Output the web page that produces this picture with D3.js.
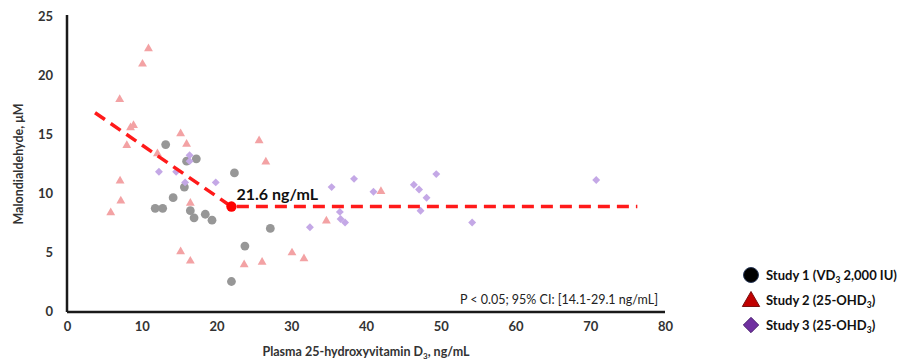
<!DOCTYPE html>
<html><head><meta charset="utf-8">
<script src="https://cdn.jsdelivr.net/npm/d3@7"></script>
<style>body{margin:0;background:#fff;} svg{display:block;font-family:Lato,"Open Sans",sans-serif;}</style>
</head><body><svg id="c" width="905" height="364"></svg>
<script>
const xTicks = [0,10,20,30,40,50,60,70,80];
const yTicks = [0,5,10,15,20,25];
const study1 = [[13.2,14.1],[17.3,12.9],[16.0,12.7],[22.4,11.7],[15.7,10.5],[14.2,9.6],[11.8,8.7],[12.8,8.7],[16.5,8.5],[17.0,7.9],[18.5,8.2],[19.4,7.7],[23.8,5.5],[22.0,2.5],[27.2,7.0]];
const study2 = [[10.9,22.3],[10.1,21.0],[7.05,18.0],[8.5,15.6],[8.9,15.8],[15.2,15.1],[16.0,14.2],[8.0,14.1],[12.1,13.4],[7.1,11.1],[7.2,9.4],[5.85,8.4],[16.5,9.2],[15.2,5.1],[16.5,4.3],[23.7,4.0],[25.7,14.5],[26.6,12.7],[34.7,7.7],[30.1,5.0],[31.7,4.5],[26.1,4.2],[42.0,10.2]];
const study3 = [[16.4,13.2],[16.4,12.7],[12.3,11.8],[14.6,11.8],[15.8,10.9],[19.9,10.9],[38.4,11.2],[35.4,10.5],[41.0,10.1],[36.5,8.4],[36.6,7.8],[37.2,7.5],[32.5,7.1],[46.4,10.7],[47.1,10.3],[49.4,11.6],[48.1,9.6],[47.3,8.5],[54.2,7.5],[70.8,11.1]];
const fitLine = [[3.75,16.8],[22.0,8.85],[76.3,8.85]];
const breakPoint = [22.0,8.85];
const breakLabel = "21.6 ng/mL";
const statText = "P < 0.05; 95% CI: [14.1-29.1 ng/mL]";
const legendItems = [
  {shape:"circle", pre:"Study 1 (VD", sub:"3", post:" 2,000 IU)"},
  {shape:"triangle", pre:"Study 2 (25-OHD", sub:"3", post:")"},
  {shape:"diamond", pre:"Study 3 (25-OHD", sub:"3", post:")"}
];

const svg = d3.select("#c");
const x = d3.scaleLinear().domain([0,80]).range([67,665]);
const y = d3.scaleLinear().domain([0,25]).range([311,16]);

// axes
const xAxis = svg.append("g").attr("transform","translate(0,312)")
  .call(d3.axisBottom(x).tickValues(xTicks).tickSize(0).tickPadding(10));
const yAxis = svg.append("g").attr("transform","translate(67,0)")
  .call(d3.axisLeft(y).tickValues(yTicks).tickSize(0).tickPadding(14));
[xAxis,yAxis].forEach(a=>{
  a.select(".domain").attr("stroke","#1a1a1a").attr("stroke-width",2.5);
  a.selectAll("text").attr("font-family","Lato, sans-serif").attr("font-size",13).attr("font-weight","bold").attr("fill","#333");
});
xAxis.select(".domain").attr("d","M67,0H665");
yAxis.select(".domain").attr("d","M0,15V312");

// titles
svg.append("text").attr("x",366).attr("y",356).attr("text-anchor","middle")
  .attr("font-size",12.5).attr("font-weight","bold").attr("fill","#333")
  .call(t=>{t.append("tspan").text("Plasma 25-hydroxyvitamin D");
    t.append("tspan").attr("font-size",8).attr("dy",3).text("3");
    t.append("tspan").attr("dy",-3).text(", ng/mL");});
svg.append("text").attr("transform","translate(23,164) rotate(-90)").attr("text-anchor","middle")
  .attr("font-size",12.5).attr("font-weight","bold").attr("fill","#333").text("Malondialdehyde, μM");

const sym = d3.symbol();
// study 2 triangles
svg.append("g").selectAll("path").data(study2).join("path")
  .attr("d", sym.type(d3.symbolTriangle).size(34)())
  .attr("transform",d=>`translate(${x(d[0])},${y(d[1])+0.8})`).attr("fill","#f3a2a4");
// study 1 circles
svg.append("g").selectAll("circle").data(study1).join("circle")
  .attr("cx",d=>x(d[0])).attr("cy",d=>y(d[1])).attr("r",4.4).attr("fill","#979797");
// study 3 diamonds
svg.append("g").selectAll("path").data(study3).join("path")
  .attr("d", d3.symbol().type(d3.symbolDiamond2 || d3.symbolDiamond).size(40)())
  .attr("transform",d=>`translate(${x(d[0])},${y(d[1])})`).attr("fill","#c4a8e6");

// fit line
svg.append("path").datum(fitLine)
  .attr("d", d3.line().x(d=>x(d[0])).y(d=>y(d[1])))
  .attr("fill","none").attr("stroke","#ff1a1a").attr("stroke-width",3.5).attr("stroke-dasharray","12,7");
svg.append("circle").attr("cx",x(breakPoint[0])).attr("cy",y(breakPoint[1])).attr("r",5.2).attr("fill","#ff0000");
svg.append("text").attr("x",x(breakPoint[0])+5).attr("y",y(breakPoint[1])-7)
  .attr("font-size",16).attr("font-weight","bold").attr("fill","#111").text(breakLabel);
svg.append("text").attr("x",658).attr("y",304).attr("text-anchor","end")
  .attr("font-size",12.5).attr("fill","#222").text(statText);

// legend
const lg = svg.append("g");
legendItems.forEach((it,i)=>{
  const cy = 275 + i*25, cx = 751;
  if(it.shape==="circle") lg.append("circle").attr("cx",cx).attr("cy",cy).attr("r",7.5).attr("fill","#000").attr("stroke","#2a3a5a").attr("stroke-width",1);
  else if(it.shape==="triangle") lg.append("path").attr("d",d3.symbol().type(d3.symbolTriangle).size(130)()).attr("transform",`translate(${cx},${cy+1.5})`).attr("fill","#c00000").attr("stroke","#7a1010").attr("stroke-width",1);
  else lg.append("path").attr("d",d3.symbol().type(d3.symbolDiamond2||d3.symbolDiamond).size(150)()).attr("transform",`translate(${cx},${cy})`).attr("fill","#7030a0").attr("stroke","#4a2070").attr("stroke-width",1);
  const t = lg.append("text").attr("x",766).attr("y",cy+4.5).attr("font-size",13).attr("font-weight","bold").attr("fill","#111");
  t.append("tspan").text(it.pre);
  t.append("tspan").attr("font-size",8.5).attr("dy",3).text(it.sub);
  t.append("tspan").attr("dy",-3).text(it.post);
});
</script></body></html>
